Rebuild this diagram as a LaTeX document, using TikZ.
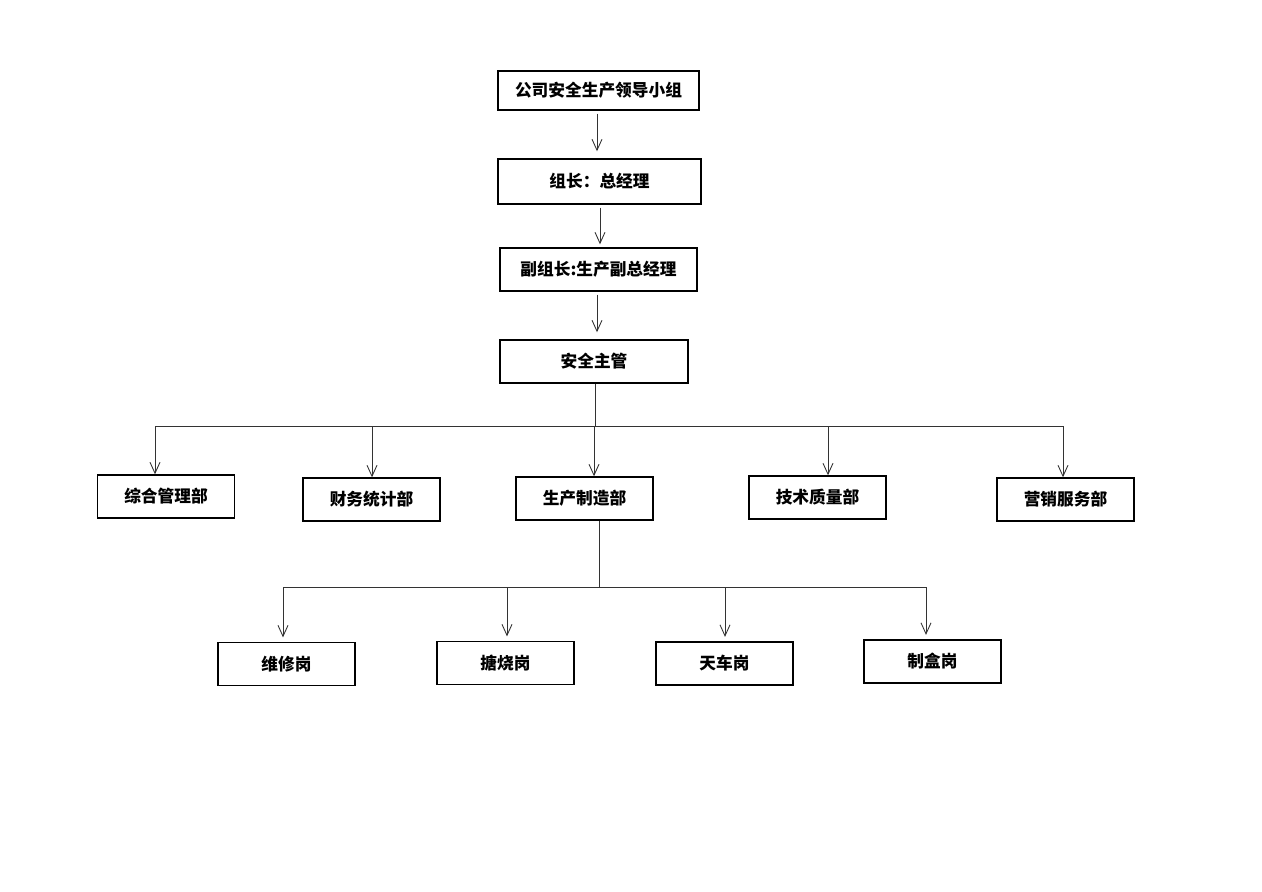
\documentclass[tikz,border=0pt]{standalone}
\usepackage{fontspec}
\usepackage{tikz}
\usetikzlibrary{calc}
\usetikzlibrary{arrows.meta,positioning}
\newfontfamily\cjk{Noto Sans CJK SC}
\newcommand{\bx}{\fontsize{9.5}{11}\cjk\bfseries}

\begin{document}
\begin{tikzpicture}[x=0.02cm,y=-0.02cm,
    box/.style={draw, line width=0.8pt, inner sep=0pt, font=\bx},
    dept/.style={box, minimum width=2.74cm, minimum height=0.86cm},
    link/.style={line width=0.5pt, black!80},
    drop/.style={link, -{Straight Barb[length=2.2mm,width=2mm]}}]
      \useasboundingbox (0,0) rectangle (1262,892);

      % leadership chain
      \node[box, minimum width=4.02cm, minimum height=0.78cm] (lead) at (598.5,90.5) {公司安全生产领导小组};
      \node[box, minimum width=4.06cm, minimum height=0.9cm] (head) at (599.5,181.5) {组长：总经理};
      \node[box, minimum width=3.94cm, minimum height=0.86cm] (vice) at (598.5,269.5) {副组长:生产副总经理};
      \node[box, minimum width=3.76cm, minimum height=0.86cm] (safe) at (594,361.5) {安全主管};

      \draw[drop, shorten <=1.7pt, shorten >=4pt] (597,0 |- lead.south) -- (597,0 |- head.north);
      \draw[drop, shorten <=1.7pt, shorten >=1.7pt] (600,0 |- head.south) -- (600,0 |- vice.north);
      \draw[drop, shorten <=1.7pt, shorten >=4pt] (597,0 |- vice.south) -- (597,0 |- safe.north);

      % departments
      \node[dept] (zonghe) at (166,496.5) {综合管理部};
      \node[dept] (caiwu) at (371.5,499.5) {财务统计部};
      \node[dept] (prod) at (584.5,498.5) {生产制造部};
      \node[dept] (jishu) at (817.5,497.5) {技术质量部};
      \node[dept] (yingxiao) at (1065.5,499.5) {营销服务部};

      \coordinate (bus) at (595,426);
      \draw[link] (safe.south -| bus) -- (bus);
      \draw[link] (155,426) -- (1063,426);
      \foreach \x/\n in {155/zonghe, 372/caiwu, 594/prod, 828/jishu, 1063/yingxiao}
        \draw[drop] (\x,426) -- (\x,0 |- \n.north);

      % posts
      \node[dept] (weixiu) at (286.5,664) {维修岗};
      \node[dept] (tangshao) at (505.5,663) {搪烧岗};
      \node[dept] (tianche) at (724.5,663.5) {天车岗};
      \node[dept] (zhihe) at (932.5,661.5) {制盒岗};

      \coordinate (pbus) at (599,587);
      \draw[link] (prod.south -| pbus) -- (pbus);
      \draw[link] (283,587) -- (926,587);
      \foreach \x/\n in {283/weixiu, 507/tangshao, 725/tianche, 926/zhihe}
        \draw[drop, shorten >=2.5pt] (\x,587) -- (\x,0 |- \n.north);
\end{tikzpicture}
\end{document}
